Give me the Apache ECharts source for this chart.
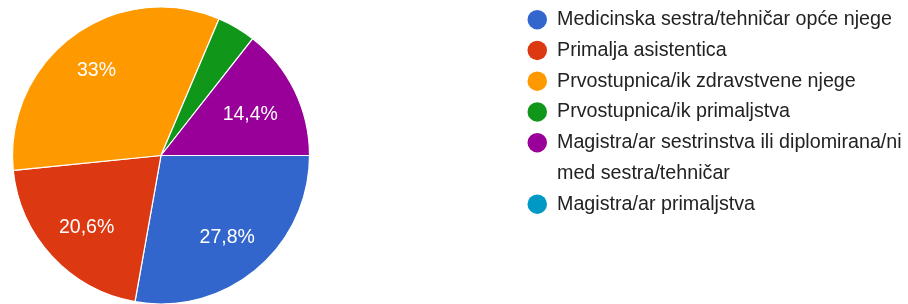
<!DOCTYPE html>
<html>
<head>
<meta charset="utf-8">
<script src="https://cdn.jsdelivr.net/npm/echarts@6/dist/echarts.min.js"></script>
<style>
  html, body { margin: 0; padding: 0; background: #fff; }
  #chart { width: 908px; height: 304px; }
</style>
</head>
<body>
<div id="chart"></div>
<script>
const categories = [
  'Medicinska sestra/tehničar opće njege',
  'Primalja asistentica',
  'Prvostupnica/ik zdravstvene njege',
  'Prvostupnica/ik primaljstva',
  'Magistra/ar sestrinstva ili diplomirana/ni med sestra/tehničar',
  'Magistra/ar primaljstva'
];
const values = [27.8, 20.6, 33, 4.2, 14.4, 0];
const colors = ['#3366cc', '#dc3912', '#ff9900', '#109618', '#990099', '#0099c6'];

const font = '"Liberation Sans", Arial, sans-serif';
const pieCenter = [161, 155.5];
const pieRadius = 148.5;
const labelEdge = 128.5; // outer corner of a slice label sits this far from the centre

const pieData = categories.map((name, i) => ({ name: name, value: values[i] }));

// legend rows are 31px; the wrapped entry gets an empty first line so that
// its icon lines up with the first line of text, the last row sits one line lower
const legendData = categories.map((name, i) => {
  let pad = [30.75, 0, 30.75, 5];
  if (name.indexOf(' med ') > 0) pad = [0, 0, 0, 5];
  if (i === categories.length - 1) pad = [61.5, 0, 61.5, 5];
  return { name: name, textStyle: { padding: pad } };
});

const chart = echarts.init(document.getElementById('chart'));
chart.setOption({
  animation: false,
  color: colors,
  legend: {
    orient: 'vertical',
    left: 527.5,
    top: -26.5,
    height: 1000,
    padding: 0,
    itemGap: -61.5,
    itemWidth: 19.5,
    itemHeight: 19.5,
    icon: 'circle',
    selectedMode: false,
    itemStyle: { borderWidth: 0 },
    data: legendData,
    formatter: function (name) {
      if (name.indexOf(' med ') > 0) {
        return '\n' + name.replace('diplomirana/ni med', 'diplomirana/ni\nmed');
      }
      return name;
    },
    textStyle: {
      color: '#222222',
      fontFamily: font,
      fontSize: 19.7,
      lineHeight: 30.75
    }
  },
  series: [
    {
      type: 'pie',
      center: pieCenter,
      radius: [0, pieRadius],
      startAngle: 0,
      clockwise: true,
      silent: true,
      itemStyle: { borderColor: '#ffffff', borderWidth: 1.2 },
      labelLine: { show: false },
      label: {
        show: true,
        position: 'inside',
        color: '#ffffff',
        fontFamily: font,
        fontSize: 19.5,
        formatter: function (p) {
          if (p.value < 5) return '';
          return String(p.value).replace('.', ',') + '%';
        }
      },
      // push each label outwards along its own direction
      labelLayout: function (p) {
        const r = p.labelRect;
        const cx = r.x + r.width / 2;
        const cy = r.y + r.height / 2;
        const dx = cx - pieCenter[0];
        const dy = cy - pieCenter[1];
        const d = Math.sqrt(dx * dx + dy * dy) || 1;
        const ux = dx / d;
        const uy = dy / d;
        const ext = Math.abs(ux) * r.width / 2 + Math.abs(uy) * r.height / 2;
        const dist = labelEdge - ext;
        return { x: pieCenter[0] + ux * dist, y: pieCenter[1] + uy * dist + 3 };
      },
      data: pieData
    }
  ]
});
</script>
</body>
</html>
